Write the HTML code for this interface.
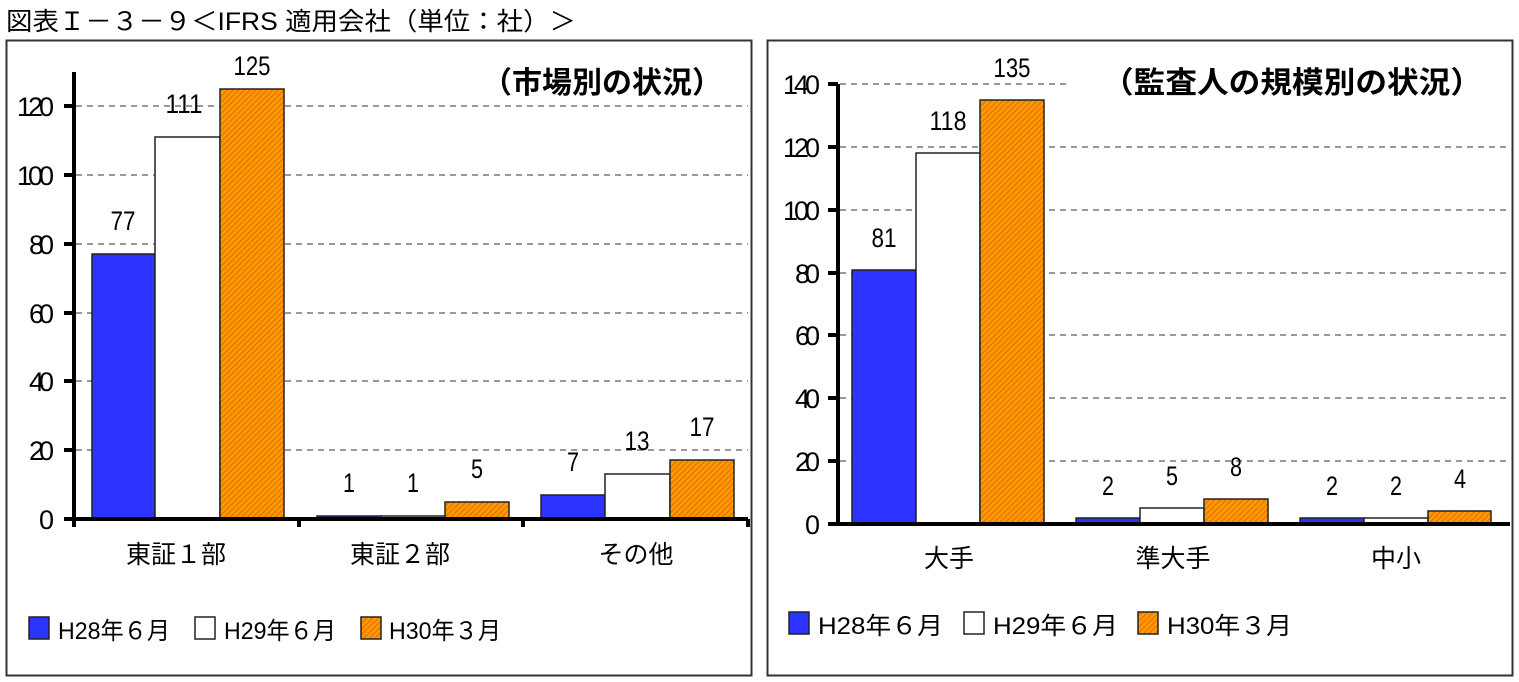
<!DOCTYPE html>
<html><head><meta charset="utf-8"><style>
body{margin:0;background:#fff;}
svg{display:block}
text{font-family:"Liberation Sans","Noto Sans CJK JP",sans-serif;fill:#000}
</style></head><body>
<svg width="1519" height="682" viewBox="0 0 1519 682" xmlns="http://www.w3.org/2000/svg">
<defs>
<pattern id="hat" width="4" height="4" patternUnits="userSpaceOnUse" patternTransform="rotate(45)">
<rect width="4" height="4" fill="#ff9900"/><rect width="1" height="4" fill="#e06a00"/>
</pattern>
</defs>
<text x="6" y="30" font-size="25" textLength="570" lengthAdjust="spacingAndGlyphs">図表Ｉ－３－９＜IFRS 適用会社（単位：社）＞</text>
<!-- Left frame -->
<rect x="6.5" y="40.5" width="745" height="635" fill="#fff" stroke="#333" stroke-width="2"/>
<g stroke="#999" stroke-width="2" stroke-dasharray="6,5">
<line x1="76" y1="450" x2="748" y2="450"/><line x1="76" y1="381" x2="748" y2="381"/>
<line x1="76" y1="313" x2="748" y2="313"/><line x1="76" y1="244" x2="748" y2="244"/>
<line x1="76" y1="175" x2="748" y2="175"/><line x1="76" y1="106" x2="748" y2="106"/>
</g>
<g stroke="#222" stroke-width="1.5">
<rect x="92" y="254" width="63" height="265" fill="#2b35ff"/>
<rect x="155" y="137" width="65" height="382" fill="#fff"/>
<rect x="220" y="89" width="64" height="430" fill="url(#hat)"/>
<rect x="317" y="516" width="64" height="3" fill="#2b35ff"/>
<rect x="381" y="516" width="64" height="3" fill="#fff"/>
<rect x="445" y="502" width="64" height="17" fill="url(#hat)"/>
<rect x="541" y="495" width="64" height="24" fill="#2b35ff"/>
<rect x="605" y="474" width="65" height="45" fill="#fff"/>
<rect x="670" y="460" width="64" height="59" fill="url(#hat)"/>
</g>
<g stroke="#000" stroke-width="4">
<line x1="74" y1="72" x2="74" y2="521"/><line x1="64" y1="519" x2="748" y2="519"/>
<line x1="64" y1="450" x2="74" y2="450"/><line x1="64" y1="381" x2="74" y2="381"/>
<line x1="64" y1="313" x2="74" y2="313"/><line x1="64" y1="244" x2="74" y2="244"/>
<line x1="64" y1="175" x2="74" y2="175"/><line x1="64" y1="106" x2="74" y2="106"/>
<line x1="74" y1="519" x2="74" y2="527"/><line x1="299" y1="519" x2="299" y2="527"/>
<line x1="523" y1="519" x2="523" y2="527"/><line x1="748" y1="519" x2="748" y2="527"/>
</g>
<g font-size="27" text-anchor="end" lengthAdjust="spacingAndGlyphs">
<text x="54" y="529" textLength="12">0</text><text x="54" y="460" textLength="25">20</text><text x="54" y="391" textLength="25">40</text>
<text x="54" y="323" textLength="25">60</text><text x="54" y="254" textLength="25">80</text><text x="54" y="185" textLength="37">100</text><text x="54" y="116" textLength="37">120</text>
</g>
<g font-size="27" text-anchor="middle">
<text x="123" y="230" textLength="25" lengthAdjust="spacingAndGlyphs">77</text><text x="184" y="113" textLength="37" lengthAdjust="spacingAndGlyphs">111</text><text x="252" y="75" textLength="37" lengthAdjust="spacingAndGlyphs">125</text>
<text x="349" y="492" textLength="12" lengthAdjust="spacingAndGlyphs">1</text><text x="413" y="492" textLength="12" lengthAdjust="spacingAndGlyphs">1</text><text x="477" y="478" textLength="12" lengthAdjust="spacingAndGlyphs">5</text>
<text x="573" y="471" textLength="12" lengthAdjust="spacingAndGlyphs">7</text><text x="637" y="450" textLength="25" lengthAdjust="spacingAndGlyphs">13</text><text x="702" y="436" textLength="25" lengthAdjust="spacingAndGlyphs">17</text>
</g>
<g font-size="25" text-anchor="middle">
<text x="176" y="563">東証１部</text><text x="400" y="563">東証２部</text><text x="636" y="563">その他</text>
</g>
<text x="722" y="93" font-size="30" font-weight="bold" text-anchor="end">（市場別の状況）</text>
<g stroke="#222" stroke-width="1.5">
<rect x="29" y="617" width="20" height="22" fill="#2b35ff"/>
<rect x="195" y="617" width="20" height="22" fill="#fff"/>
<rect x="361" y="617" width="20" height="22" fill="url(#hat)"/>
</g>
<g font-size="24"><text x="58" y="639" textLength="112" lengthAdjust="spacingAndGlyphs">H28年６月</text><text x="224" y="639" textLength="112" lengthAdjust="spacingAndGlyphs">H29年６月</text><text x="389" y="639" textLength="112" lengthAdjust="spacingAndGlyphs">H30年３月</text></g>

<!-- Right frame -->
<rect x="767.5" y="40.5" width="745" height="635" fill="#fff" stroke="#333" stroke-width="2"/>
<g stroke="#999" stroke-width="2" stroke-dasharray="6,5">
<line x1="840" y1="461" x2="1510" y2="461"/><line x1="840" y1="398" x2="1510" y2="398"/>
<line x1="840" y1="335" x2="1510" y2="335"/><line x1="840" y1="273" x2="1510" y2="273"/>
<line x1="840" y1="210" x2="1510" y2="210"/><line x1="840" y1="147" x2="1510" y2="147"/>
<line x1="840" y1="84" x2="1070" y2="84"/>
</g>
<g stroke="#222" stroke-width="1.5">
<rect x="852" y="270" width="64" height="254" fill="#2b35ff"/>
<rect x="916" y="153" width="64" height="371" fill="#fff"/>
<rect x="980" y="100" width="64" height="424" fill="url(#hat)"/>
<rect x="1076" y="518" width="64" height="6" fill="#2b35ff"/>
<rect x="1140" y="508" width="64" height="16" fill="#fff"/>
<rect x="1204" y="499" width="64" height="25" fill="url(#hat)"/>
<rect x="1300" y="518" width="64" height="6" fill="#2b35ff"/>
<rect x="1364" y="518" width="64" height="6" fill="#fff"/>
<rect x="1428" y="511" width="63" height="13" fill="url(#hat)"/>
</g>
<g stroke="#000" stroke-width="4">
<line x1="838" y1="84" x2="838" y2="526"/><line x1="828" y1="524" x2="1510" y2="524"/>
<line x1="828" y1="461" x2="838" y2="461"/><line x1="828" y1="398" x2="838" y2="398"/>
<line x1="828" y1="335" x2="838" y2="335"/><line x1="828" y1="273" x2="838" y2="273"/>
<line x1="828" y1="210" x2="838" y2="210"/><line x1="828" y1="147" x2="838" y2="147"/><line x1="828" y1="84" x2="838" y2="84"/>
</g>
<g font-size="27" text-anchor="end" lengthAdjust="spacingAndGlyphs">
<text x="820" y="534" textLength="12">0</text><text x="820" y="471" textLength="25">20</text><text x="820" y="408" textLength="25">40</text>
<text x="820" y="345" textLength="25">60</text><text x="820" y="283" textLength="25">80</text><text x="820" y="220" textLength="37">100</text>
<text x="820" y="157" textLength="37">120</text><text x="820" y="94" textLength="37">140</text>
</g>
<g font-size="27" text-anchor="middle">
<text x="884" y="247" textLength="25" lengthAdjust="spacingAndGlyphs">81</text><text x="948" y="130" textLength="37" lengthAdjust="spacingAndGlyphs">118</text><text x="1012" y="77" textLength="37" lengthAdjust="spacingAndGlyphs">135</text>
<text x="1108" y="495" textLength="12" lengthAdjust="spacingAndGlyphs">2</text><text x="1172" y="485" textLength="12" lengthAdjust="spacingAndGlyphs">5</text><text x="1236" y="476" textLength="12" lengthAdjust="spacingAndGlyphs">8</text>
<text x="1332" y="495" textLength="12" lengthAdjust="spacingAndGlyphs">2</text><text x="1396" y="495" textLength="12" lengthAdjust="spacingAndGlyphs">2</text><text x="1460" y="488" textLength="12" lengthAdjust="spacingAndGlyphs">4</text>
</g>
<g font-size="25" text-anchor="middle">
<text x="949" y="567">大手</text><text x="1173" y="567">準大手</text><text x="1396" y="567">中小</text>
</g>
<text x="1482" y="93" font-size="30" font-weight="bold" text-anchor="end" textLength="380" lengthAdjust="spacingAndGlyphs">（監査人の規模別の状況）</text>
<g stroke="#222" stroke-width="1.5">
<rect x="789" y="612" width="20" height="22" fill="#2b35ff"/>
<rect x="964" y="612" width="20" height="22" fill="#fff"/>
<rect x="1138" y="612" width="20" height="22" fill="url(#hat)"/>
</g>
<g font-size="24"><text x="818" y="634" textLength="125" lengthAdjust="spacingAndGlyphs">H28年６月</text><text x="993" y="634" textLength="125" lengthAdjust="spacingAndGlyphs">H29年６月</text><text x="1167" y="634" textLength="125" lengthAdjust="spacingAndGlyphs">H30年３月</text></g>
</svg>
</body></html>
